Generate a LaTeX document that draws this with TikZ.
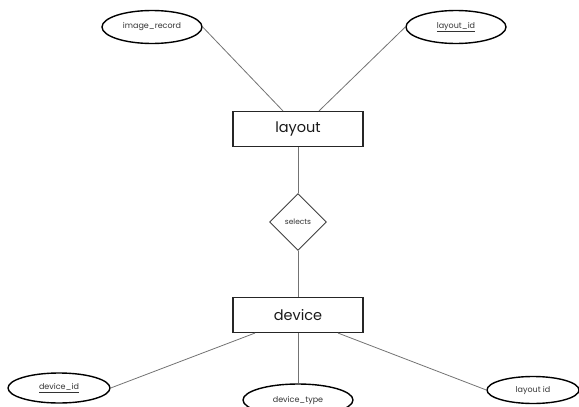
\documentclass[tikz,border=0pt]{standalone}
\usepackage{fontspec}
\setmainfont{Poppins}
\usetikzlibrary{shapes.geometric}

\begin{document}
\begin{tikzpicture}[x=1pt, y=-1pt,
    attr/.style={draw, ellipse, line width=1.4pt, inner sep=0pt, minimum width=100pt, minimum height=33pt, text=black!80, font=\fontsize{8}{10}\selectfont},
    entity/.style={draw=black!85, line width=1.1pt, minimum width=130pt, minimum height=35pt, text=black!90, font=\fontsize{14.5}{16}\selectfont},
    rel/.style={draw=black!75, diamond, line width=0.9pt, aspect=1, inner sep=0pt, minimum width=57pt, minimum height=57pt, text=black!80, font=\fontsize{7.5}{9}\selectfont},
    link/.style={draw=black!55, line width=0.8pt}]
    \useasboundingbox (0,0) rectangle (579,407);
    \node[attr] (imgrec) at (152,27) {image\_record};
    \node[attr] (lid) at (456,27) {\underline{layout\_id}};
    \node[entity] (layout) at (298,129) {layout};
    \node[rel] (sel) at (298,222) {selects};
    \node[entity] (device) at (298,315) {device};
    \node[attr, minimum width=102pt, minimum height=30pt] (did) at (59,388) {\underline{device\_id}};
    \node[attr, minimum width=110pt, minimum height=32pt] (dtype) at (298,400) {device\_type};
    \node[attr, minimum width=92pt, minimum height=27pt] (dlid) at (533,390) {layout id};
    \draw[link] (imgrec.east) -- ([xshift=-15pt]layout.north);
    \draw[link] (lid.west) -- ([xshift=21pt]layout.north);
    \draw[link] (layout) -- (sel);
    \draw[link] (sel) -- (device);
    \draw[link] ([xshift=-43pt]device.south) -- (did.east);
    \draw[link] (device) -- (dtype);
    \draw[link] ([xshift=40pt]device.south) -- (dlid.west);
\end{tikzpicture}
\end{document}
